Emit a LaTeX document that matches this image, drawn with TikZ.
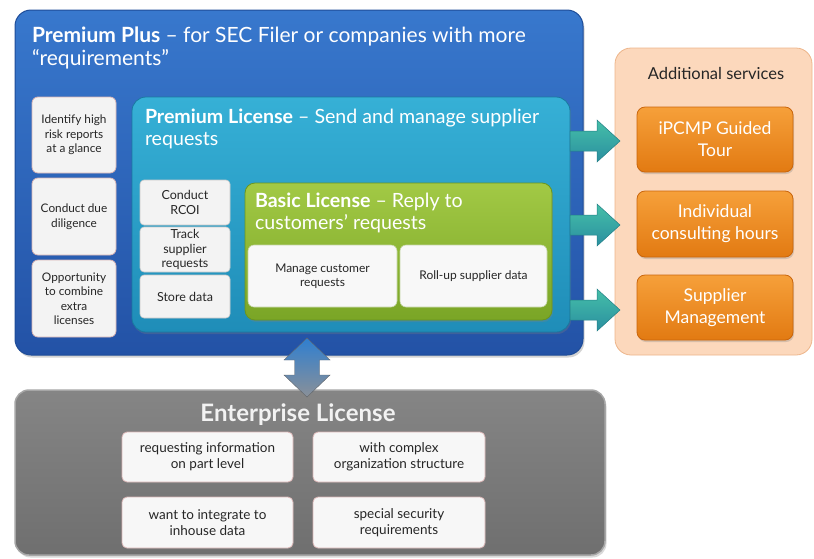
\documentclass[tikz,border=0pt]{standalone}
\usepackage{fontspec}
\setmainfont{Lato}
\usetikzlibrary{shadows}
\definecolor{ppTop}{HTML}{3878CD}
\definecolor{ppBot}{HTML}{2352A6}
\definecolor{ppEdge}{HTML}{1E4C98}
\definecolor{plTop}{HTML}{36B0D6}
\definecolor{plBot}{HTML}{1F8DB8}
\definecolor{plEdge}{HTML}{1A78A0}
\definecolor{bTop}{HTML}{A2C945}
\definecolor{bBot}{HTML}{7AA526}
\definecolor{bEdge}{HTML}{6B951E}
\definecolor{lightFill}{HTML}{F3F3F3}
\definecolor{pinkEdge}{HTML}{D8B4B4}
\definecolor{greyEdge}{HTML}{C8C8C8}
\definecolor{orTop}{HTML}{F6A03A}
\definecolor{orBot}{HTML}{E27A12}
\definecolor{orEdge}{HTML}{C9650C}
\definecolor{peach}{HTML}{FCD8BC}
\definecolor{peachEdge}{HTML}{EDB58A}
\definecolor{entTop}{HTML}{858585}
\definecolor{entBot}{HTML}{6F6F6F}
\definecolor{entEdge}{HTML}{A6A6A6}
\definecolor{tealTop}{HTML}{45BFA8}
\definecolor{tealBot}{HTML}{2A8FA0}
\definecolor{tealEdge}{HTML}{237F86}
\definecolor{arrBlue}{HTML}{2F7FD0}
\definecolor{arrGrey}{HTML}{8A9098}
\definecolor{darkText}{HTML}{262626}
\tikzset{
  panel/.style={rectangle, anchor=north west, inner sep=0pt, outer sep=0pt},
  ppbox/.style={panel, rounded corners=16pt, top color=ppTop, bottom color=ppBot, draw=ppEdge, line width=1pt,
    drop shadow={opacity=0.35, shadow xshift=1.5pt, shadow yshift=-2.5pt}},
  plbox/.style={panel, rounded corners=14pt, top color=plTop, bottom color=plBot, draw=plEdge, line width=0.8pt,
    drop shadow={opacity=0.3, shadow xshift=1pt, shadow yshift=-2pt}},
  basicbox/.style={panel, rounded corners=10pt, top color=bTop, bottom color=bBot, draw=bEdge, line width=0.8pt,
    drop shadow={opacity=0.3, shadow xshift=1pt, shadow yshift=-2pt}},
  leftcell/.style={panel, rounded corners=6pt, fill=lightFill, draw=pinkEdge, line width=0.8pt, align=center,
    text=darkText, font=\fontsize{11.8}{14.5}\selectfont},
  plcell/.style={panel, rounded corners=4pt, fill=lightFill, draw=greyEdge, line width=0.6pt, align=center,
    text=darkText, font=\fontsize{12.5}{14.5}\selectfont},
  bcell/.style={panel, rounded corners=6pt, fill=lightFill!60!white, draw=bEdge!40!white, line width=0.6pt, align=center,
    text=darkText, font=\fontsize{12}{14.5}\selectfont},
  addbox/.style={panel, rounded corners=16pt, fill=peach, draw=peachEdge, line width=0.8pt},
  orcell/.style={panel, rounded corners=8pt, top color=orTop, bottom color=orBot, draw=orEdge, line width=0.8pt,
    align=center, text=white, font=\fontsize{17.5}{22}\selectfont,
    drop shadow={opacity=0.3, shadow xshift=1pt, shadow yshift=-2pt}},
  entbox/.style={panel, rounded corners=14pt, top color=entTop, bottom color=entBot, draw=entEdge, line width=1.5pt,
    drop shadow={opacity=0.3, shadow xshift=1.5pt, shadow yshift=-2.5pt}},
  entcell/.style={panel, rounded corners=5pt, fill=lightFill!70!white, draw=pinkEdge, line width=0.8pt, align=center,
    text=darkText, font=\fontsize{13.5}{16}\selectfont,
    drop shadow={opacity=0.35, shadow xshift=1pt, shadow yshift=-1.5pt}},
  title/.style={anchor=north west, inner sep=0pt, outer sep=0pt, align=left},
  tealarrow/.style={top color=tealTop, bottom color=tealBot, draw=tealEdge, line width=0.5pt},
}
\begin{document}
\begin{tikzpicture}[x=1pt,y=-1pt]
\useasboundingbox (0,0) rectangle (814,558);

% Premium Plus
\node[ppbox, minimum width=568pt, minimum height=345pt] (pp) at (15,10) {};
\node[title, text=white, font=\fontsize{21}{23}\selectfont] (pptitle) at (32,27)
  {\textbf{Premium Plus} – for SEC Filer or companies with more\\“requirements”};
\node[leftcell, minimum width=84pt, minimum height=76pt] (l1) at (32,97) {Identify high\\risk reports\\at a glance};
\node[leftcell, minimum width=84pt, minimum height=77pt] (l2) at (32,178) {Conduct due\\diligence};
\node[leftcell, minimum width=84pt, minimum height=77pt] (l3) at (32,260) {Opportunity\\to combine\\extra\\licenses};

% Premium License
\node[plbox, minimum width=438pt, minimum height=235pt] (pl) at (132,97) {};
\node[title, text=white, font=\fontsize{19.6}{22}\selectfont] (pltitle) at (145,109)
  {\textbf{Premium License} – Send and manage supplier\\requests};
\node[plcell, minimum width=90pt, minimum height=45pt] (c1) at (140,180) {Conduct\\RCOI};
\node[plcell, minimum width=90pt, minimum height=45pt] (c2) at (140,227) {Track\\supplier\\requests};
\node[plcell, minimum width=90pt, minimum height=43pt] (c3) at (140,275) {Store data};

% Basic License
\node[basicbox, minimum width=307pt, minimum height=137pt] (bl) at (245,183) {};
\node[title, text=white, font=\fontsize{19.6}{22}\selectfont] (bltitle) at (255,193)
  {\textbf{Basic License} – Reply to\\customers’ requests};
\node[bcell, minimum width=149pt, minimum height=62pt] (b1) at (248,245) {Manage customer\\requests};
\node[bcell, minimum width=147pt, minimum height=62pt] (b2) at (400,245) {Roll-up supplier data};

% Additional services
\node[addbox, minimum width=197pt, minimum height=307pt] (add) at (615,48) {};
\node[anchor=base, inner sep=0pt, text=darkText, font=\fontsize{16.5}{18}\selectfont] (addtitle) at (716,79) {Additional services};
\node[orcell, minimum width=156pt, minimum height=65pt] (o1) at (637,107) {iPCMP Guided\\Tour};
\node[orcell, minimum width=156pt, minimum height=66pt] (o2) at (637,191) {Individual\\consulting hours};
\node[orcell, minimum width=156pt, minimum height=65pt] (o3) at (637,275) {Supplier\\Management};

% teal arrows from Premium License to Additional services
\foreach \yy/\nm in {141/a1, 225/a2, 310/a3}{
  \coordinate (\nm) at (pl.east |- 0,\yy);
  \path[tealarrow] (\nm) ++(0,-10) -- ++(27,0) -- ++(0,-11) -- ++(23,21) -- ++(-23,21) -- ++(0,-11) -- ++(-27,0) -- cycle;
}

% Enterprise License
\node[entbox, minimum width=590pt, minimum height=165pt] (ent) at (15,390) {};
\node[anchor=base, inner sep=0pt, text=white!95!black, font=\fontsize{24}{28}\bfseries] (enttitle) at (298,421) {Enterprise License};
\node[entcell, minimum width=171pt, minimum height=50pt] (e1) at (122,432) {requesting information\\on part level};
\node[entcell, minimum width=172pt, minimum height=50pt] (e2) at (313,432) {with complex\\organization structure};
\node[entcell, minimum width=171pt, minimum height=51pt] (e3) at (122,497) {want to integrate to\\inhouse data};
\node[entcell, minimum width=172pt, minimum height=51pt] (e4) at (313,497) {special security\\requirements};

% double arrow between Premium Plus and Enterprise License
\coordinate (vt) at (307,338);
\coordinate (vb) at (307,397);
\path[top color=arrBlue, bottom color=arrGrey, draw=arrGrey!70!black, line width=0.4pt]
  (vt) -- ++(23,22) -- ++(-10.5,0) -- ++(0,15) -- ++(10.5,0) -- (vb) -- ++(-23,-22) -- ++(10.5,0)
  -- ++(0,-15) -- ++(-10.5,0) -- cycle;
\end{tikzpicture}
\end{document}
